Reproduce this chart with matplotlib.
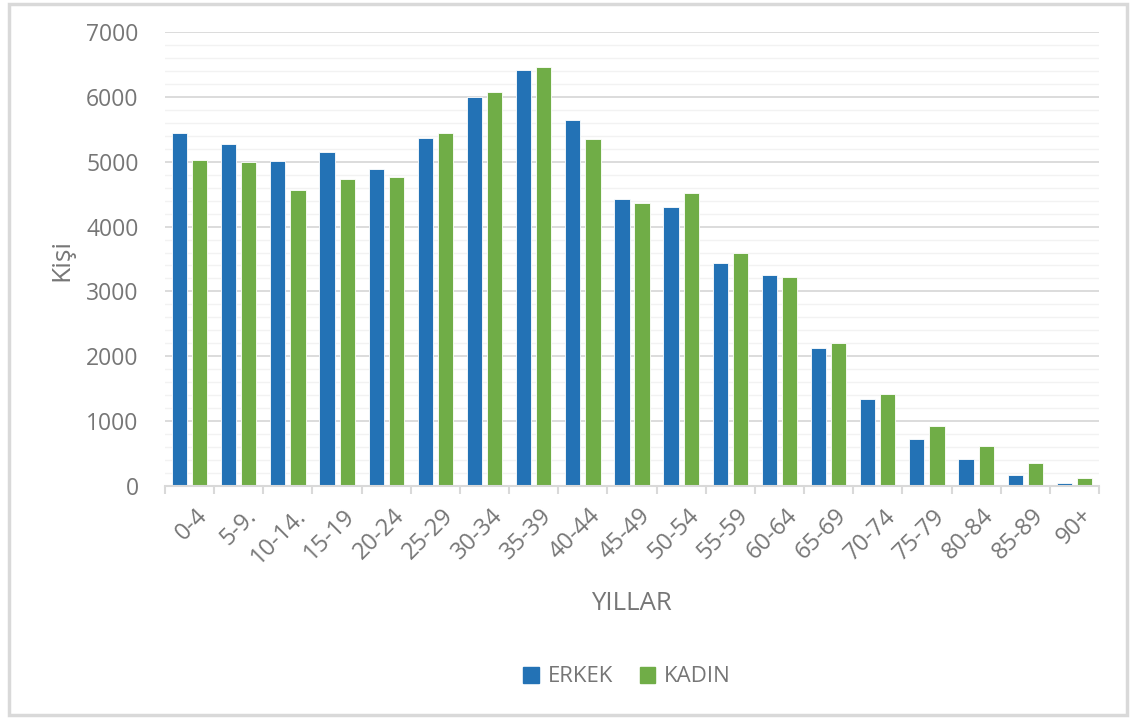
import matplotlib
matplotlib.use("Agg")
import matplotlib.pyplot as plt
import numpy as np
from matplotlib.patches import Rectangle, Patch
from matplotlib.ticker import MultipleLocator
from matplotlib.transforms import ScaledTranslation

categories = ["0-4", "5-9.", "10-14.", "15-19", "20-24", "25-29", "30-34", "35-39",
              "40-44", "45-49", "50-54", "55-59", "60-64", "65-69", "70-74", "75-79",
              "80-84", "85-89", "90+"]
erkek = [5450, 5270, 5010, 5150, 4880, 5360, 6000, 6420, 5640, 4420, 4300, 3440,
         3260, 2130, 1340, 720, 410, 170, 45]
kadin = [5020, 5000, 4560, 4730, 4760, 5450, 6070, 6460, 5350, 4370, 4520, 3600,
         3230, 2210, 1420, 920, 610, 350, 130]

plt.rcParams['font.family'] = ['Open Sans', 'DejaVu Sans']
TXT = '#767676'
BLUE = '#2372B5'
GREEN = '#70AD47'

fig = plt.figure(figsize=(11.32, 7.18), dpi=100)
fig.patches.append(Rectangle((9/1132, 3/718), 1118/1132, 711/718, transform=fig.transFigure,
                             fill=False, edgecolor='#D9D9D9', linewidth=2.5, zorder=0))
ax = fig.add_axes([165/1132, 1-486/718, 934/1132, 454/718])

x = np.arange(len(categories))
w = 0.31
off = 0.205
ax.bar(x - off, erkek, w, color=BLUE, edgecolor='white', linewidth=0.6, label='ERKEK', zorder=3)
ax.bar(x + off, kadin, w, color=GREEN, edgecolor='white', linewidth=0.6, label='KADIN', zorder=3)

ax.set_xlim(-0.5, len(categories) - 0.5)
ax.set_ylim(0, 7000)
ax.yaxis.set_major_locator(MultipleLocator(1000))
ax.yaxis.set_minor_locator(MultipleLocator(200))
ax.grid(which='major', axis='y', color='#D9D9D9', linewidth=1.3, zorder=0)
ax.grid(which='minor', axis='y', color='#F2F2F2', linewidth=1.0, zorder=0)
ax.set_axisbelow(True)

for s in ['top', 'right', 'left']:
    ax.spines[s].set_visible(False)
ax.spines['bottom'].set_color('#D9D9D9')
ax.spines['bottom'].set_linewidth(1.5)
ax.spines['bottom'].set_zorder(4)

ax.set_xticks(np.arange(-0.5, len(categories), 1.0))
ax.set_xticklabels([])
ax.set_xticks(x, minor=True)
ax.set_xticklabels(categories, minor=True, rotation=45, ha='right', va='top',
                   rotation_mode='anchor', color=TXT, fontsize=17)
ax.tick_params(axis='x', which='major', length=6, width=1.5, color='#D9D9D9')
ax.tick_params(axis='x', which='minor', length=0, pad=13)
shift = ScaledTranslation(6/100, 0, fig.dpi_scale_trans)
for lbl in ax.get_xticklabels(minor=True):
    lbl.set_transform(lbl.get_transform() + shift)
ax.tick_params(axis='y', which='both', length=0, pad=19, labelsize=16.5, labelcolor=TXT)

fig.text(631/1132, 1-603/718, 'YILLAR', ha='center', va='center', fontsize=18.5, color=TXT)
fig.text(62/1132, 1-260/718, 'Kişi', ha='center', va='center', rotation=90, fontsize=19, color=TXT)

handles = [Patch(color=BLUE, label='ERKEK'), Patch(color=GREEN, label='KADIN')]
fig.legend(handles=handles, loc='center', bbox_to_anchor=(627/1132, 1-677/718), ncol=2,
           frameon=False, fontsize=16, labelcolor=TXT, handlelength=0.7, handleheight=0.7,
           handletextpad=0.4, columnspacing=1.2)

fig.savefig('out.png', dpi=100)
